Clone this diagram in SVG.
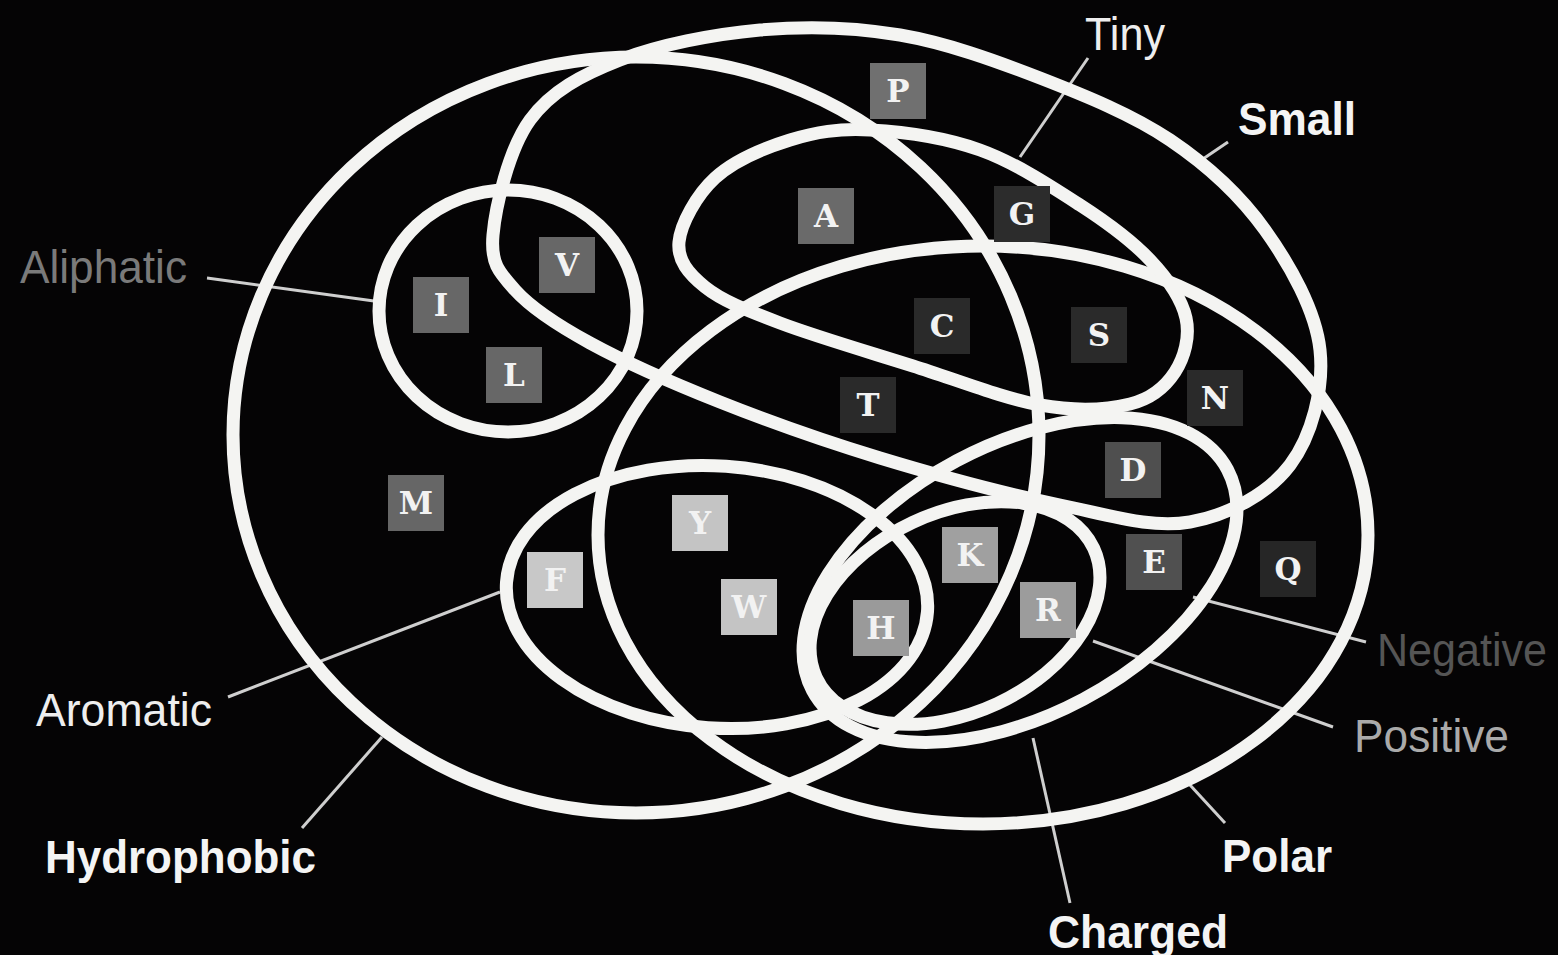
<svg xmlns="http://www.w3.org/2000/svg" width="1558" height="955" viewBox="0 0 1558 955">
<style>
.set{fill:none;stroke:#f4f4f2;stroke-width:13}
.lead{stroke:#cfcfcf;stroke-width:3;fill:none}
.lbl{font-family:"Liberation Sans","Noto Sans",Arial,sans-serif;font-size:46px}
.b{font-weight:bold}
.aa text{font-family:"DejaVu Serif","Liberation Serif",serif;font-weight:bold;font-size:31px;fill:#f2f2f2;text-anchor:middle}
</style>
<rect width="1558" height="955" fill="#050405"/>
<g id="connectors">
<line class="lead" x1="1088" y1="58" x2="1020" y2="157"/>
<line class="lead" x1="1228" y1="142" x2="1197" y2="163"/>
<line class="lead" x1="207" y1="278" x2="374" y2="301"/>
<line class="lead" x1="228" y1="697" x2="500" y2="592"/>
<line class="lead" x1="302" y1="828" x2="382" y2="737"/>
<line class="lead" x1="1366" y1="642" x2="1193" y2="597"/>
<line class="lead" x1="1333" y1="727" x2="1093" y2="641"/>
<line class="lead" x1="1225" y1="823" x2="1190" y2="785"/>
<line class="lead" x1="1070" y1="903" x2="1033" y2="738"/>
</g>
<g id="hydrophobic"><ellipse class="set" cx="636" cy="435" rx="403" ry="378"/></g>
<g id="polar"><ellipse class="set" cx="983" cy="535" rx="385" ry="289"/></g>
<g id="small"><path class="set" d="M493,235 C495.5,206.7 508.8,149.2 530,120 S581.7,75 620,60 S713.3,34.2 760,30 S853.3,27 900,35 S995,60.5 1040,78 S1132.5,114.7 1170,140 S1240,195 1265,230 S1315.8,310.8 1320,350 S1311.7,436.3 1290,465 S1228.3,515.3 1190,522 S1111.7,515.7 1060,505 S936.7,475.2 880,458 S768.3,421.2 720,402 S624.2,361.7 590,343 S531.2,308 515,290 S490.5,263.3 493,235 Z"/></g>
<g id="tiny"><path class="set" d="M679,242 C680.7,223.8 696.5,195 715,178 S764.2,148 790,140 S838.3,128.3 870,130 S945,137.5 980,150 S1051.7,186.7 1080,205 S1132.3,241.2 1150,260 S1181.8,299.3 1186,318 S1184.3,357.7 1175,372 S1152.5,398.5 1130,404 S1076.2,411.3 1040,405 S956.3,379.7 913,366 S814.7,336.2 780,323 S721.8,300.5 705,287 S677.3,260.2 679,242 Z"/></g>
<g id="aliphatic"><ellipse class="set" cx="508" cy="311" rx="129" ry="121"/></g>
<g id="aromatic"><ellipse class="set" cx="717" cy="597" rx="211" ry="131" transform="rotate(4 717 597)"/></g>
<g id="charged"><ellipse class="set" cx="1020" cy="580" rx="235" ry="135" transform="rotate(-28 1020 580)"/></g>
<g id="positive"><ellipse class="set" cx="955" cy="613" rx="153" ry="100" transform="rotate(-25 955 613)"/></g>
<g id="labels">
<text class="lbl" x="1085" y="50" fill="#eeeeee" textLength="80" lengthAdjust="spacingAndGlyphs">Tiny</text>
<text class="lbl b" x="1238" y="135" fill="#f4f4f4" textLength="118" lengthAdjust="spacingAndGlyphs">Small</text>
<text class="lbl" x="20" y="283" fill="#7a7a7a" textLength="167" lengthAdjust="spacingAndGlyphs">Aliphatic</text>
<text class="lbl" x="36" y="726" fill="#eeeeee" textLength="176" lengthAdjust="spacingAndGlyphs">Aromatic</text>
<text class="lbl b" x="45" y="873" fill="#f4f4f4" textLength="271" lengthAdjust="spacingAndGlyphs">Hydrophobic</text>
<text class="lbl" x="1377" y="666" fill="#555555" textLength="170" lengthAdjust="spacingAndGlyphs">Negative</text>
<text class="lbl" x="1354" y="752" fill="#aaaaaa" textLength="155" lengthAdjust="spacingAndGlyphs">Positive</text>
<text class="lbl b" x="1222" y="872" fill="#f4f4f4" textLength="110" lengthAdjust="spacingAndGlyphs">Polar</text>
<text class="lbl b" x="1048" y="948" fill="#f4f4f4" textLength="180" lengthAdjust="spacingAndGlyphs">Charged</text>
</g>
<g class="aa">
<g id="aa-P"><rect x="870" y="63" width="56" height="56" fill="#707070"/><text x="898" y="102">P</text></g>
<g id="aa-A"><rect x="798" y="188" width="56" height="56" fill="#6a6a6a"/><text x="826" y="227">A</text></g>
<g id="aa-G"><rect x="994" y="186" width="56" height="56" fill="#2c2c2c"/><text x="1022" y="225">G</text></g>
<g id="aa-V"><rect x="539" y="237" width="56" height="56" fill="#676767"/><text x="567" y="276">V</text></g>
<g id="aa-I"><rect x="413" y="277" width="56" height="56" fill="#676767"/><text x="441" y="316">I</text></g>
<g id="aa-L"><rect x="486" y="347" width="56" height="56" fill="#676767"/><text x="514" y="386">L</text></g>
<g id="aa-C"><rect x="914" y="298" width="56" height="56" fill="#2a2a2a"/><text x="942" y="337">C</text></g>
<g id="aa-S"><rect x="1071" y="307" width="56" height="56" fill="#2a2a2a"/><text x="1099" y="346">S</text></g>
<g id="aa-T"><rect x="840" y="377" width="56" height="56" fill="#2a2a2a"/><text x="868" y="416">T</text></g>
<g id="aa-N"><rect x="1187" y="370" width="56" height="56" fill="#2a2a2a"/><text x="1215" y="409">N</text></g>
<g id="aa-D"><rect x="1105" y="442" width="56" height="56" fill="#4f4f4f"/><text x="1133" y="481">D</text></g>
<g id="aa-M"><rect x="388" y="475" width="56" height="56" fill="#666666"/><text x="416" y="514">M</text></g>
<g id="aa-Y"><rect x="672" y="495" width="56" height="56" fill="#c4c4c4"/><text x="700" y="534">Y</text></g>
<g id="aa-F"><rect x="527" y="552" width="56" height="56" fill="#c8c8c8"/><text x="555" y="591">F</text></g>
<g id="aa-K"><rect x="942" y="527" width="56" height="56" fill="#a0a0a0"/><text x="970" y="566">K</text></g>
<g id="aa-E"><rect x="1126" y="534" width="56" height="56" fill="#505050"/><text x="1154" y="573">E</text></g>
<g id="aa-Q"><rect x="1260" y="541" width="56" height="56" fill="#262626"/><text x="1288" y="580">Q</text></g>
<g id="aa-W"><rect x="721" y="579" width="56" height="56" fill="#c4c4c4"/><text x="749" y="618">W</text></g>
<g id="aa-R"><rect x="1020" y="582" width="56" height="56" fill="#9c9c9c"/><text x="1048" y="621">R</text></g>
<g id="aa-H"><rect x="853" y="600" width="56" height="56" fill="#9a9a9a"/><text x="881" y="639">H</text></g>
</g>
</svg>
